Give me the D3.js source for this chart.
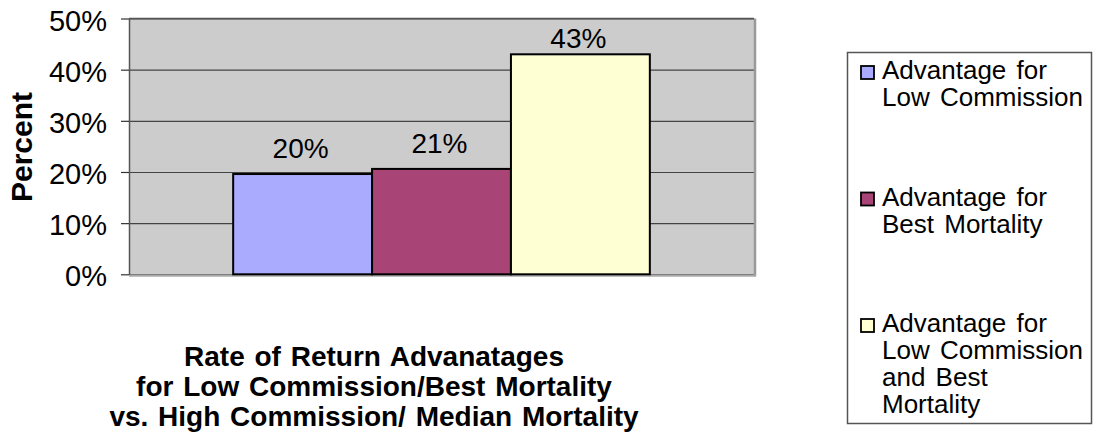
<!DOCTYPE html>
<html>
<head>
<meta charset="utf-8">
<script src="https://cdn.jsdelivr.net/npm/d3@7"></script>
<style>
  body { margin: 0; background: #fff; }
  text { font-family: "Liberation Sans", Arial, sans-serif; fill: #000; }
</style>
</head>
<body>
<svg id="chart" width="1094" height="436"></svg>
<script>
// Data
const category = "Rate of Return";
const series = ["Low Commission", "Best Mortality", "Low Commission and Best Mortality"];
const values = [0.196, 0.206, 0.43];
const legendLines = [
  ["Advantage for", "Low Commission"],
  ["Advantage for", "Best Mortality"],
  ["Advantage for", "Low Commission", "and Best", "Mortality"]
];
const yTicks = [0, 0.1, 0.2, 0.3, 0.4, 0.5];
const titleLines = [
  "Rate of Return Advanatages",
  "for Low Commission/Best Mortality",
  "vs. High Commission/ Median Mortality"
];
const yLabel = "Percent";
const colors = ["#AAAAFF", "#A94477", "#FFFFD4"];

const svg = d3.select("#chart");
const plot = { left: 129, right: 754, top: 18.5, bottom: 274.3 };
const fmt = d3.format(".0%");

const y = d3.scaleLinear().domain([0, 0.5]).range([plot.bottom, plot.top]);
const x0 = d3.scaleBand().domain([category]).range([plot.left, plot.right]).paddingOuter(0.25);
const x1 = d3.scaleBand().domain(series).range([x0(category), x0(category) + x0.bandwidth()]);

// plot area background
svg.append("rect")
  .attr("x", plot.left).attr("y", plot.top)
  .attr("width", plot.right - plot.left).attr("height", plot.bottom - plot.top)
  .attr("fill", "#CCCCCC");

// gridlines
const grid = svg.append("g")
  .attr("transform", `translate(${plot.left},0)`)
  .call(d3.axisLeft(y).tickValues(yTicks).tickSize(-(plot.right - plot.left)).tickFormat(""));
grid.select(".domain").remove();
grid.selectAll("line").attr("stroke", "#444").attr("stroke-width", 1.2);

// light frame on the right and bottom
svg.append("line")
  .attr("x1", plot.right + 1).attr("x2", plot.right + 1)
  .attr("y1", plot.top).attr("y2", plot.bottom + 2)
  .attr("stroke", "#999").attr("stroke-width", 2.5);
svg.append("line")
  .attr("x1", plot.left).attr("x2", plot.right + 2)
  .attr("y1", plot.bottom + 1.5).attr("y2", plot.bottom + 1.5)
  .attr("stroke", "#aaa").attr("stroke-width", 2);

// bars
svg.append("g").selectAll("rect")
  .data(values)
  .join("rect")
  .attr("x", (d, i) => x1(series[i]))
  .attr("y", d => y(d))
  .attr("width", x1.bandwidth())
  .attr("height", d => y(0) - y(d))
  .attr("fill", (d, i) => colors[i])
  .attr("stroke", "#000")
  .attr("stroke-width", 2);

// value labels (Excel keeps the top one inside the chart)
svg.append("g").selectAll("text")
  .data(values)
  .join("text")
  .attr("x", (d, i) => x1(series[i]) + x1.bandwidth() / 2 - 2)
  .attr("y", d => Math.max(y(d) - 16, 48))
  .attr("text-anchor", "middle")
  .style("font-size", "28px")
  .text(d => fmt(d));

// y axis
const yAxis = svg.append("g")
  .attr("transform", `translate(${plot.left},0)`)
  .call(d3.axisLeft(y).tickValues(yTicks).tickFormat(fmt).tickSize(8).tickSizeOuter(0).tickPadding(14));
yAxis.select(".domain").attr("stroke", "#555").attr("stroke-width", 1.5);
yAxis.selectAll(".tick line").attr("stroke", "#333").attr("stroke-width", 1.2);
yAxis.selectAll(".tick text")
  .attr("dy", "0.4em")
  .style("font-size", "29px")
  .attr("fill", "#000");

// top border
svg.append("line")
  .attr("x1", plot.left).attr("x2", plot.right)
  .attr("y1", plot.top).attr("y2", plot.top)
  .attr("stroke", "#555").attr("stroke-width", 1.5);

// y label
svg.append("text")
  .attr("transform", "translate(32,147) rotate(-90)")
  .attr("text-anchor", "middle")
  .style("font-size", "30px")
  .style("font-weight", "bold")
  .text(yLabel);

// title under the chart
svg.append("g").selectAll("text")
  .data(titleLines)
  .join("text")
  .attr("x", 374)
  .attr("y", (d, i) => 366 + i * 30)
  .attr("text-anchor", "middle")
  .style("font-size", "28px")
  .style("font-weight", "bold")
  .style("word-spacing", "2px")
  .text(d => d);

// legend
const legend = svg.append("g");
legend.append("rect")
  .attr("x", 847.5).attr("y", 52.5)
  .attr("width", 244).attr("height", 371)
  .attr("fill", "#fff")
  .attr("stroke", "#555")
  .attr("stroke-width", 1.5);

const legendStart = 79, legendStep = 126.5, lineStep = 27;
legendLines.forEach((lines, i) => {
  const base = legendStart + i * legendStep;
  legend.append("rect")
    .attr("x", 861).attr("y", base - 13)
    .attr("width", 13).attr("height", 13)
    .attr("fill", colors[i])
    .attr("stroke", "#000")
    .attr("stroke-width", 1.8);
  legend.append("text")
    .style("font-size", "26px")
    .style("word-spacing", "3px")
    .selectAll("tspan")
    .data(lines)
    .join("tspan")
    .attr("x", 882)
    .attr("y", (d, j) => base + j * lineStep)
    .text(d => d);
});
</script>
</body>
</html>
